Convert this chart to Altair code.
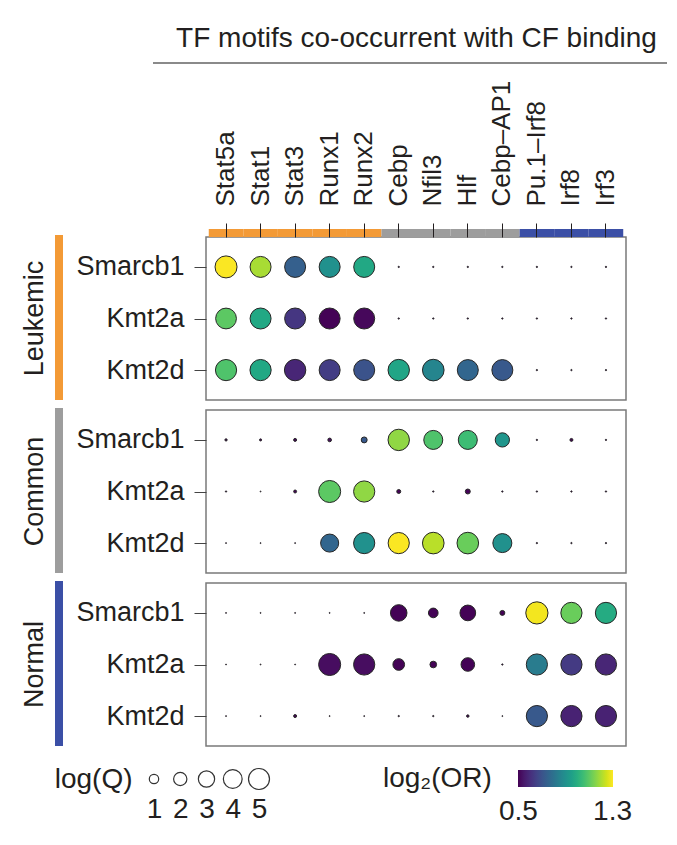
import altair as alt
import pandas as pd

FONT = "Liberation Sans"
INK = "#231f20"

# ---------------- data ----------------
motifs = ["Stat5a", "Stat1", "Stat3", "Runx1", "Runx2", "Cebp", "Nfil3", "Hlf",
          "Cebp–AP1", "Pu.1–Irf8", "Irf8", "Irf3"]
motif_groups = ["Leukemic"] * 5 + ["Common"] * 4 + ["Normal"] * 3
cf_rows = ["Smarcb1", "Kmt2a", "Kmt2d"]
panel_groups = ["Leukemic", "Common", "Normal"]

# log(Q) per panel: rows = Smarcb1, Kmt2a, Kmt2d ; columns = motifs
logq_leukemic = [
    [5.5, 5.0, 5.0, 5.0, 5.0, 0.02, 0.02, 0.02, 0.02, 0.02, 0.02, 0.02],
    [4.9, 5.0, 5.0, 5.0, 5.0, 0.02, 0.02, 0.02, 0.02, 0.02, 0.02, 0.02],
    [5.1, 5.1, 5.2, 5.0, 5.0, 5.2, 5.3, 5.0, 5.0, 0.02, 0.02, 0.02],
]
lor_leukemic = [
    [1.30, 1.20, 0.74, 0.90, 0.98, 0.5, 0.5, 0.5, 0.5, 0.5, 0.5, 0.5],
    [1.10, 0.98, 0.62, 0.50, 0.51, 0.5, 0.5, 0.5, 0.5, 0.5, 0.5, 0.5],
    [1.08, 0.98, 0.58, 0.64, 0.70, 0.97, 0.86, 0.76, 0.72, 0.5, 0.5, 0.5],
]
logq_common = [
    [0.06, 0.05, 0.10, 0.15, 0.40, 5.2, 4.1, 4.1, 2.3, 0.02, 0.10, 0.02],
    [0.02, 0.01, 0.10, 5.5, 5.1, 0.18, 0.02, 0.28, 0.02, 0.02, 0.02, 0.02],
    [0.01, 0.01, 0.01, 3.7, 5.1, 5.1, 5.3, 5.3, 4.1, 0.02, 0.02, 0.02],
]
lor_common = [
    [0.5, 0.5, 0.5, 0.52, 0.72, 1.17, 1.08, 1.05, 0.92, 0.5, 0.5, 0.5],
    [0.5, 0.5, 0.5, 1.10, 1.17, 0.5, 0.5, 0.5, 0.5, 0.5, 0.5, 0.5],
    [0.5, 0.5, 0.5, 0.76, 0.90, 1.30, 1.22, 1.12, 0.90, 0.5, 0.5, 0.5],
]
logq_normal = [
    [0.01, 0.01, 0.01, 0.01, 0.01, 3.1, 1.06, 2.8, 0.28, 5.6, 5.1, 5.1],
    [0.01, 0.01, 0.01, 5.5, 5.1, 1.55, 0.5, 2.1, 0.02, 5.1, 5.1, 5.1],
    [0.01, 0.01, 0.10, 0.01, 0.01, 0.02, 0.02, 0.07, 0.01, 5.1, 5.1, 5.1],
]
lor_normal = [
    [0.5, 0.5, 0.5, 0.5, 0.5, 0.5, 0.5, 0.5, 0.5, 1.29, 1.12, 0.99],
    [0.5, 0.5, 0.5, 0.52, 0.52, 0.5, 0.5, 0.5, 0.5, 0.83, 0.63, 0.58],
    [0.5, 0.5, 0.5, 0.5, 0.5, 0.5, 0.5, 0.5, 0.5, 0.72, 0.57, 0.57],
]
legend_q = [1, 2, 3, 4, 5]
or_ticks = [0.5, 1.3]

panel_data = {
    "Leukemic": (logq_leukemic, lor_leukemic),
    "Common": (logq_common, lor_common),
    "Normal": (logq_normal, lor_normal),
}

# ---------------- styling ----------------
group_colors = ["#f39a36", "#9d9d9d", "#3b4fa6"]
W, H = 420, 163

x_scale = alt.Scale(type="band", domain=motifs, paddingInner=0, paddingOuter=0.08)
y_scale = alt.Scale(type="point", domain=cf_rows, padding=0.58)
size_scale = alt.Scale(domain=[0, 5], range=[0, 441], zero=True)
color_scale = alt.Scale(scheme="viridis", domain=[0.496, 1.304], clamp=True)
fill_scale = alt.Scale(domain=panel_groups, range=group_colors)

top_axis = alt.Axis(orient="top", labelAngle=-90, labelFontSize=26, labelColor=INK,
                    tickSize=14, tickColor=INK, tickWidth=1, labelPadding=17,
                    domain=False, title="TF motifs co-occurrent with CF binding",
                    titleFontSize=28, titleFontWeight="normal", titleColor=INK,
                    titlePadding=28)
y_axis = alt.Axis(orient="left", title=None, labelFontSize=27, labelColor=INK,
                  tickSize=12, tickColor="#444444", tickWidth=1, labelPadding=10,
                  domain=False)

color_legend = alt.Legend(orient="none", legendX=177, legendY=533, direction="horizontal",
                          title="log₂(OR)", titleOrient="left", titleFontSize=28,
                          titleFontWeight="normal", titleColor=INK, titlePadding=26,
                          gradientLength=95, gradientThickness=17, gradientStrokeWidth=0,
                          values=or_ticks, labelFontSize=28, labelColor=INK,
                          labelOffset=11, labelOverlap=False)


def make_df(group):
    logq, lor = panel_data[group]
    recs = []
    for i, cf in enumerate(cf_rows):
        for j, m in enumerate(motifs):
            recs.append(dict(group=group, cf=cf, motif=m, logq=logq[i][j], lor=lor[i][j]))
    return pd.DataFrame(recs)


def panel(group, first):
    xax = top_axis if first else None
    gdf = pd.DataFrame({"group": [group]})
    side_bar = alt.Chart(gdf).mark_rect().encode(
        x=alt.value(-151), x2=alt.value(-143), y=alt.value(-2), y2=alt.value(H),
        fill=alt.Fill("group:N", scale=fill_scale, legend=None),
    )
    side_label = alt.Chart(gdf).mark_text(
        angle=270, fontSize=27, align="center", baseline="alphabetic", color=INK
    ).encode(x=alt.value(-163), y=alt.value(H / 2), text="group:N")
    circ = alt.Chart(make_df(group)).mark_circle(
        opacity=1, stroke="#262626", strokeWidth=1
    ).encode(
        x=alt.X("motif:N", sort=motifs, scale=x_scale, axis=xax),
        y=alt.Y("cf:N", sort=cf_rows, scale=y_scale, axis=y_axis),
        size=alt.Size("logq:Q", scale=size_scale, legend=None),
        color=alt.Color("lor:Q", scale=color_scale, legend=color_legend),
    )
    layers = [side_bar, side_label]
    if first:
        bar_df = pd.DataFrame({"motif": motifs, "mgroup": motif_groups})
        top_bar = alt.Chart(bar_df).mark_rect().encode(
            x=alt.X("motif:N", sort=motifs, scale=x_scale, axis=xax),
            y=alt.value(-8), y2=alt.value(0),
            fill=alt.Fill("mgroup:N", scale=fill_scale, legend=None),
        )
        rule = alt.Chart(pd.DataFrame({"k": [0]})).mark_rule(
            color="#8a8a8a", strokeWidth=2
        ).encode(x=alt.value(-53), x2=alt.value(461), y=alt.value(-174))
        layers += [top_bar, rule]
    layers.append(circ)
    return alt.layer(*layers).properties(width=W, height=H)


panels = alt.vconcat(*[panel(g, i == 0) for i, g in enumerate(panel_groups)], spacing=6)

leg_df = pd.DataFrame({"q": legend_q, "lbl": ["log(Q)"] * len(legend_q)})
size_leg = alt.Chart(leg_df).mark_point(
    shape="circle", filled=False, strokeWidth=1.2, opacity=1
).encode(
    x=alt.X("q:O", scale=alt.Scale(type="point", range=[-52, 53], padding=0),
            axis=alt.Axis(orient="bottom", domain=False, ticks=False, labelAngle=0,
                          labelFontSize=28, labelColor=INK, labelPadding=5, title=None)),
    y=alt.Y("lbl:N", axis=alt.Axis(domain=False, ticks=False, labelFontSize=28,
                                   labelColor=INK, labelPadding=74, title=None)),
    size=alt.Size("q:Q", scale=size_scale, legend=None),
    color=alt.value("#333333"),
).properties(width=60, height=22, view=alt.ViewBackground(stroke=None))

chart = alt.vconcat(panels, size_leg, spacing=18).properties(
    padding={"left": 12, "top": 15, "right": 0, "bottom": 5},
    background="#ffffff",
).configure(font=FONT).configure_view(stroke="#7a7a7a", strokeWidth=1.5)

chart.save("out.html", embed_options={"renderer": "svg", "actions": False})
